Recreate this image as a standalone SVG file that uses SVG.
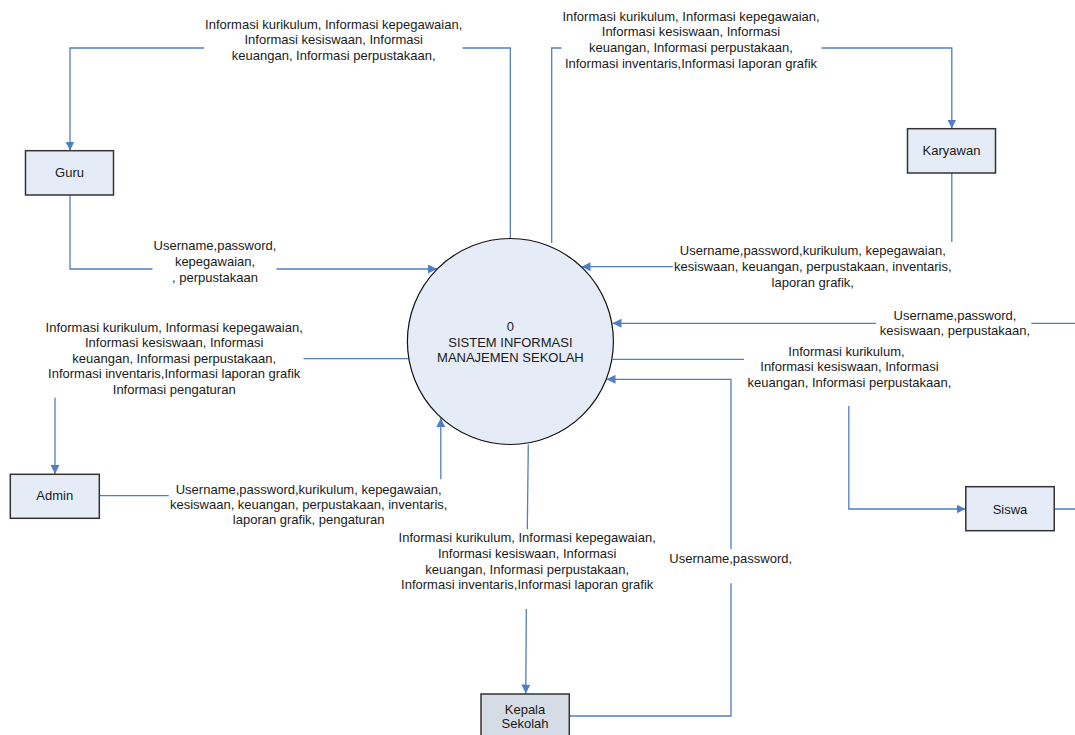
<svg xmlns="http://www.w3.org/2000/svg" width="1075" height="735" viewBox="0 0 1075 735">
<style>
text{font-family:"Liberation Sans",Arial,sans-serif;font-size:13px;fill:#1a1a1a;text-anchor:middle}
.box{fill:#E6ECF7;stroke:#333;stroke-width:1.5}
.proc{fill:#E6ECF7;stroke:#111;stroke-width:1.2}
.flow{fill:none;stroke:#4F7FC0;stroke-width:1.3}
</style>
<defs>
<marker id="arr" markerUnits="userSpaceOnUse" markerWidth="10" markerHeight="9" refX="9" refY="4.5" orient="auto">
<path d="M0,0 L9,4.5 L0,9 Z" fill="#4F7FC0"/>
</marker>
</defs>
<rect width="1075" height="735" fill="#fff"/>

<g id="connectors">
<!-- circle -> Guru -->
<path class="flow" d="M510.3,239 L510.3,48 L462.5,48 M204,48 L70,48 L70,150.5" marker-end="url(#arr)"/>
<text><tspan x="333.7" y="28.8">Informasi kurikulum, Informasi kepegawaian,</tspan><tspan x="333.7" y="44.2">Informasi kesiswaan, Informasi</tspan><tspan x="333.7" y="59.8">keuangan, Informasi perpustakaan,</tspan></text>
<!-- Guru -> circle -->
<path class="flow" d="M70,195 L70,269 L152.5,269 M276.5,269 L437,269" marker-end="url(#arr)"/>
<text><tspan x="215" y="250.2">Username,password,</tspan><tspan x="215" y="266.2">kepegawaian,</tspan><tspan x="215" y="281.8">, perpustakaan</tspan></text>
<!-- circle -> Karyawan -->
<path class="flow" d="M551.7,243 L551.7,48 L561.5,48 M821.5,48 L951.8,48 L951.8,128.5" marker-end="url(#arr)"/>
<text><tspan x="691" y="20.5">Informasi kurikulum, Informasi kepegawaian,</tspan><tspan x="691" y="35.8">Informasi kesiswaan, Informasi</tspan><tspan x="691" y="51.8">keuangan, Informasi perpustakaan,</tspan><tspan x="691" y="67.8">Informasi inventaris,Informasi laporan grafik</tspan></text>
<!-- Karyawan -> circle -->
<path class="flow" d="M951.8,173 L951.8,242 M673,266.7 L581.5,266.7" marker-end="url(#arr)"/>
<text><tspan x="812.8" y="254.5">Username,password,kurikulum, kepegawaian,</tspan><tspan x="812.8" y="271.2">kesiswaan, keuangan, perpustakaan, inventaris,</tspan><tspan x="812.8" y="287.2">laporan grafik,</tspan></text>
<!-- Siswa -> circle -->
<path class="flow" d="M1054,509 L1085,509 L1085,323.3 L1031.3,323.3 M876,323.3 L612.5,323.3" marker-end="url(#arr)"/>
<text><tspan x="955" y="319.8">Username,password,</tspan><tspan x="955" y="335.2">kesiswaan, perpustakaan,</tspan></text>
<!-- circle -> Siswa -->
<path class="flow" d="M612.5,359.3 L744,359.3 M848.8,406 L848.8,509 L965.5,509" marker-end="url(#arr)"/>
<text><tspan x="846.5" y="355.5">Informasi kurikulum,</tspan><tspan x="849.5" y="371.2">Informasi kesiswaan, Informasi</tspan><tspan x="849.5" y="386.8">keuangan, Informasi perpustakaan,</tspan></text>
<!-- circle -> Admin -->
<path class="flow" d="M409,358.7 L303.5,358.7 M55,397.7 L55,474" marker-end="url(#arr)"/>
<text><tspan x="174.2" y="331.8">Informasi kurikulum, Informasi kepegawaian,</tspan><tspan x="174.2" y="347.2">Informasi kesiswaan, Informasi</tspan><tspan x="174.2" y="362.8">keuangan, Informasi perpustakaan,</tspan><tspan x="174.2" y="377.8">Informasi inventaris,Informasi laporan grafik</tspan><tspan x="174.2" y="393.5">Informasi pengaturan</tspan></text>
<!-- Admin -> circle -->
<path class="flow" d="M99,495.7 L168.7,495.7 M440.8,479.3 L440.8,418" marker-end="url(#arr)"/>
<text><tspan x="308.7" y="493.8">Username,password,kurikulum, kepegawaian,</tspan><tspan x="308.7" y="508.8">kesiswaan, keuangan, perpustakaan, inventaris,</tspan><tspan x="308.7" y="523.8">laporan grafik, pengaturan</tspan></text>
<!-- circle -> Kepala Sekolah -->
<path class="flow" d="M528.3,444.5 L527.3,529.3 M526.3,609 L525.8,693.5" marker-end="url(#arr)"/>
<text><tspan x="527.2" y="541.8">Informasi kurikulum, Informasi kepegawaian,</tspan><tspan x="527.2" y="557.8">Informasi kesiswaan, Informasi</tspan><tspan x="527.2" y="573.5">keuangan, Informasi perpustakaan,</tspan><tspan x="527.2" y="588.8">Informasi inventaris,Informasi laporan grafik</tspan></text>
<!-- Kepala Sekolah -> circle -->
<path class="flow" d="M569.3,716 L731,716 L731,583.3 M731,549.3 L731,379.3 L606.5,379.3" marker-end="url(#arr)"/>
<text x="730.7" y="563.2">Username,password,</text>
</g>

<g id="process-0">
<circle class="proc" cx="510.4" cy="341.5" r="103"/>
<text><tspan x="510.4" y="330.7">0</tspan><tspan x="510.4" y="346.7">SISTEM INFORMASI</tspan><tspan x="510.4" y="362.2">MANAJEMEN SEKOLAH</tspan></text>
</g>
<g id="guru">
<rect class="box" x="25.5" y="150.7" width="88" height="44.3"/>
<text x="69.5" y="176.8">Guru</text>
</g>
<g id="karyawan">
<rect class="box" x="907.5" y="128.7" width="88" height="44.3"/>
<text x="951.5" y="155.2">Karyawan</text>
</g>
<g id="admin">
<rect class="box" x="10.3" y="474.3" width="89" height="44"/>
<text x="54.7" y="500.2">Admin</text>
</g>
<g id="siswa">
<rect class="box" x="965.8" y="486.7" width="88.4" height="44"/>
<text x="1010" y="513.5">Siswa</text>
</g>
<g id="kepala-sekolah">
<rect class="box" x="481" y="694" width="88.3" height="46" style="fill:#D6DCE6"/>
<text><tspan x="525" y="713.5">Kepala</tspan><tspan x="525" y="727.8">Sekolah</tspan></text>
</g>
</svg>
